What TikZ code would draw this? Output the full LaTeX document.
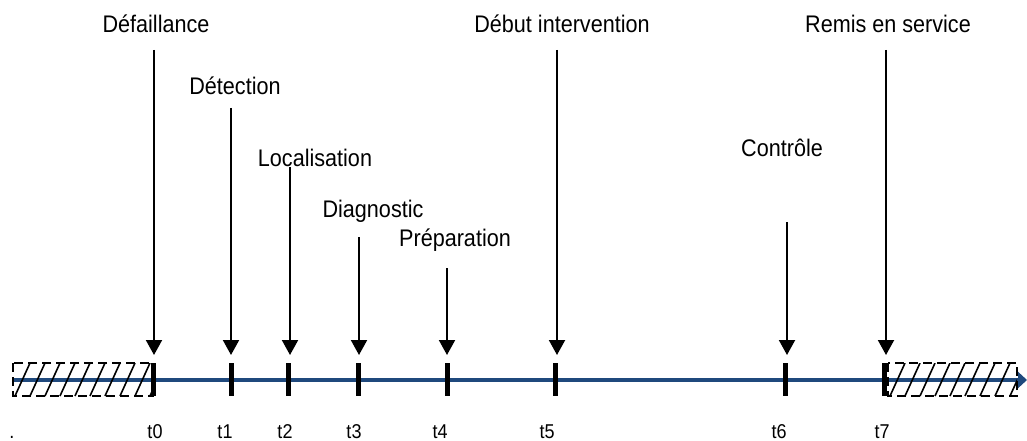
\documentclass[tikz,border=0pt]{standalone}
\usepackage{fontspec}
\setmainfont[FakeStretch=0.9]{Liberation Sans}
\usetikzlibrary{arrows.meta}
\definecolor{axisblue}{RGB}{31,73,125}

\begin{document}
\begin{tikzpicture}[x=1pt, y=-1pt,
    event/.style={anchor=base, inner sep=0pt, font=\fontsize{24}{28}\selectfont},
    tlabel/.style={anchor=base, inner sep=0pt, font=\fontsize{20}{24}\selectfont},
    pointer/.style={-{Triangle[length=15pt,width=16pt]}, line width=2pt, black},
    tickmark/.style={line width=5pt, black},
    hatchbox/.style={line width=1.6pt, dash pattern=on 9pt off 5pt}]
    \useasboundingbox (0,0) rectangle (1027,441);

    % Time axis
    \coordinate (axisstart) at (13,380);
    \coordinate (axisend) at (1027,380);
    \draw[line width=4.5pt, axisblue, -{Triangle[length=9pt,width=16pt]}] (axisstart) -- (axisend);

    % Hatched boxes before t0 and after t7
    \draw[hatchbox] (13,363) rectangle (153,396);
    \begin{scope}
        \clip (13,363) rectangle (153,396);
        \foreach \x in {30,45,...,165} \draw[line width=1.6pt] (\x,363) -- (\x-15,396);
    \end{scope}
    \draw[hatchbox] (888,363) rectangle (1017,396);
    \begin{scope}
        \clip (888,363) rectangle (1017,396);
        \foreach \x in {905,920,...,1025} \draw[line width=1.6pt] (\x,363) -- (\x-15,396);
    \end{scope}

    % Ticks, pointers and time labels
    \foreach \tx/\ax/\lx/\top/\n in {153/154/155/50/0, 231/231/225/108/1, 288/290/285/167/2,
        358/359/354/237/3, 447/447/440/268/4, 555/557/547/50/5, 785/787/779/222/6, 884/886/882/50/7}
    {
        \draw[tickmark] (\tx,363) -- (\tx,396);
        \coordinate (top\n) at (\ax,\top);
        \coordinate (tip\n) at (\ax,355);
        \draw[pointer] (top\n) -- (tip\n);
        \node[tlabel] (t\n) at (\lx,438) {t\n};
    }
    \node[tlabel] (dot) at (12,438) {.};

    % Events
    \node[event] (defaillance) at (156,33) {Défaillance};
    \node[event] (detection) at (235,95) {Détection};
    \node[event] (localisation) at (315,166) {Localisation};
    \node[event] (diagnostic) at (373,217) {Diagnostic};
    \node[event] (preparation) at (455,246) {Préparation};
    \node[event] (debut) at (562,33) {Début intervention};
    \node[event] (controle) at (782,156) {Contrôle};
    \node[event] (remis) at (888,33) {Remis en service};
\end{tikzpicture}
\end{document}
